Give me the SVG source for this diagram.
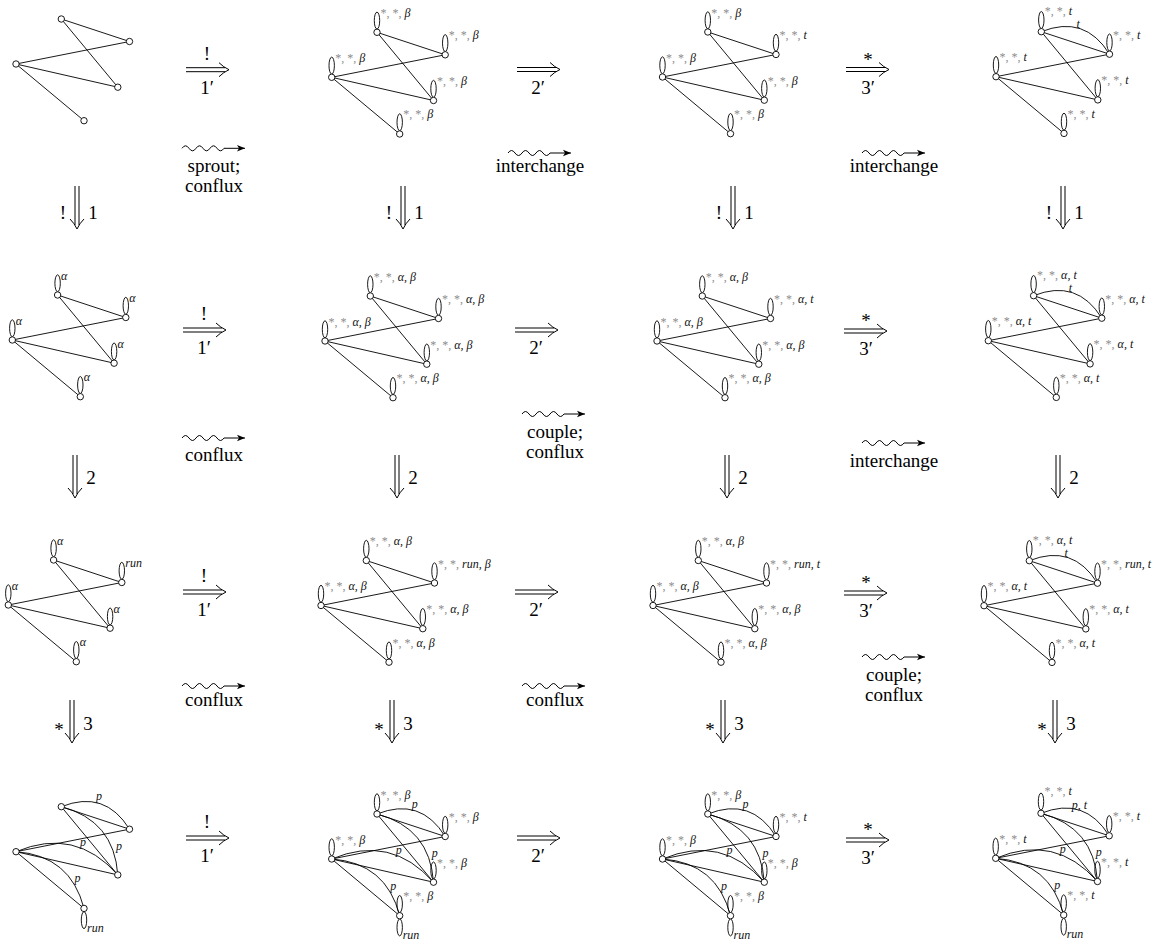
<svg xmlns="http://www.w3.org/2000/svg" width="1152" height="941" viewBox="0 0 1152 941">
<style>
.e{fill:none;stroke:#000;stroke-width:0.9}
.n{fill:#fff;stroke:#000;stroke-width:0.9}
.l{font-family:"Liberation Serif",serif;font-size:12px;font-style:italic;fill:#111}
.g{fill:#8c8c8c;font-style:normal}
.t{font-family:"Liberation Serif",serif;font-size:19px;fill:#000;text-anchor:middle}
.a{fill:none;stroke:#000;stroke-width:1}
</style>
<defs>
<marker id="ah" markerUnits="userSpaceOnUse" viewBox="-9 -4 10 8" refX="0" refY="0" markerWidth="10" markerHeight="8" orient="auto"><path d="M-8,-3.3L0,0L-8,3.3L-6,0z" fill="#000"/></marker>
<path id="ed" class="e" d="M45.3,-45L113.5,-22.5M45.3,-45L101.8,23.2M0,0L113.5,-22.5M0,0L101.8,23.2M0,0L68,56.7"/>
<g id="nd" class="n"><circle cx="0" cy="0" r="3.2"/><circle cx="45.3" cy="-45" r="3.2"/><circle cx="113.5" cy="-22.5" r="3.2"/><circle cx="101.8" cy="23.2" r="3.2"/><circle cx="68" cy="56.7" r="3.2"/></g>
<g id="lp" class="e"><ellipse cx="0" cy="-11.7" rx="2.7" ry="8.5"/><ellipse cx="45.3" cy="-56.7" rx="2.7" ry="8.5"/><ellipse cx="113.5" cy="-34.2" rx="2.7" ry="8.5"/><ellipse cx="101.8" cy="11.5" rx="2.7" ry="8.5"/><ellipse cx="68" cy="45" rx="2.7" ry="8.5"/></g>
<ellipse id="lb" class="e" cx="68" cy="68.4" rx="2.7" ry="8.5"/>
<path id="ab" class="e" d="M45.3,-45Q88.85,-62.39 113.5,-22.5"/>
<path id="pc" class="e" d="M45.3,-45Q98.1,-31.24 101.8,23.2M0,0Q59.25,-25.05 101.8,23.2M0,0Q54.41,3.87 68,56.7"/>
<g id="ha" class="a"><path d="M0,-2H39M0,2H39"/><path d="M33,-7Q37.5,-2.5 43,0Q37.5,2.5 33,7"/></g>
<g id="va"><use href="#ha" transform="rotate(90)"/></g>
<path id="sq" class="a" d="M0,0q3.5,-5 7,0t7,0t7,0t7,0t7,0t7,0h21" marker-end="url(#ah)"/>
</defs>
<rect width="1152" height="941" fill="#fff"/>

<!-- Row 1 -->
<g id="r1c1" transform="translate(16,64)">
<use href="#ed"/><use href="#nd"/>
</g>
<g id="r1c2" transform="translate(331.7,77.3)">
<use href="#ed"/><use href="#lp"/><use href="#nd"/>
<text class="l" x="3.5" y="-15.5"><tspan class="g">*, *, </tspan>β</text>
<text class="l" x="48.8" y="-60.5"><tspan class="g">*, *, </tspan>β</text>
<text class="l" x="117" y="-38"><tspan class="g">*, *, </tspan>β</text>
<text class="l" x="105.3" y="7.7"><tspan class="g">*, *, </tspan>β</text>
<text class="l" x="71.5" y="41.2"><tspan class="g">*, *, </tspan>β</text>
</g>
<g id="r1c3" transform="translate(662.5,77)">
<use href="#ed"/><use href="#lp"/><use href="#nd"/>
<text class="l" x="3.5" y="-15.5"><tspan class="g">*, *, </tspan>β</text>
<text class="l" x="48.8" y="-60.5"><tspan class="g">*, *, </tspan>β</text>
<text class="l" x="117" y="-38"><tspan class="g">*, *, </tspan>t</text>
<text class="l" x="105.3" y="7.7"><tspan class="g">*, *, </tspan>β</text>
<text class="l" x="71.5" y="41.2"><tspan class="g">*, *, </tspan>β</text>
</g>
<g id="r1c4" transform="translate(996,76.7)">
<use href="#ed"/><use href="#ab"/><use href="#lp"/><use href="#nd"/>
<text class="l" x="80.5" y="-48.6">t</text>
<text class="l" x="3.5" y="-15.5"><tspan class="g">*, *, </tspan>t</text>
<text class="l" x="48.8" y="-61.5"><tspan class="g">*, *, </tspan>t</text>
<text class="l" x="117" y="-38"><tspan class="g">*, *, </tspan>t</text>
<text class="l" x="105.3" y="7.7"><tspan class="g">*, *, </tspan>t</text>
<text class="l" x="71.5" y="41.2"><tspan class="g">*, *, </tspan>t</text>
</g>

<!-- Row 2 -->
<g id="r2c1" transform="translate(12.3,340)">
<use href="#ed"/><use href="#lp"/><use href="#nd"/>
<text class="l" x="3.5" y="-15.5">α</text>
<text class="l" x="48.8" y="-60.5">α</text>
<text class="l" x="117" y="-38">α</text>
<text class="l" x="105.3" y="7.7">α</text>
<text class="l" x="71.5" y="41.2">α</text>
</g>
<g id="r2c2" transform="translate(325,341)">
<use href="#ed"/><use href="#lp"/><use href="#nd"/>
<text class="l" x="3.5" y="-15.5"><tspan class="g">*, *, </tspan>α, β</text>
<text class="l" x="48.8" y="-60.5"><tspan class="g">*, *, </tspan>α, β</text>
<text class="l" x="117" y="-38"><tspan class="g">*, *, </tspan>α, β</text>
<text class="l" x="105.3" y="7.7"><tspan class="g">*, *, </tspan>α, β</text>
<text class="l" x="71.5" y="41.2"><tspan class="g">*, *, </tspan>α, β</text>
</g>
<g id="r2c3" transform="translate(657,341)">
<use href="#ed"/><use href="#lp"/><use href="#nd"/>
<text class="l" x="3.5" y="-15.5"><tspan class="g">*, *, </tspan>α, β</text>
<text class="l" x="48.8" y="-60.5"><tspan class="g">*, *, </tspan>α, β</text>
<text class="l" x="117" y="-38"><tspan class="g">*, *, </tspan>α, t</text>
<text class="l" x="105.3" y="7.7"><tspan class="g">*, *, </tspan>α, β</text>
<text class="l" x="71.5" y="41.2"><tspan class="g">*, *, </tspan>α, β</text>
</g>
<g id="r2c4" transform="translate(988.3,340.7)">
<use href="#ed"/><use href="#ab"/><use href="#lp"/><use href="#nd"/>
<text class="l" x="80.5" y="-48.6">t</text>
<text class="l" x="3.5" y="-15.5"><tspan class="g">*, *, </tspan>α, t</text>
<text class="l" x="48.8" y="-61.5"><tspan class="g">*, *, </tspan>α, t</text>
<text class="l" x="117" y="-38"><tspan class="g">*, *, </tspan>α, t</text>
<text class="l" x="105.3" y="7.7"><tspan class="g">*, *, </tspan>α, t</text>
<text class="l" x="71.5" y="41.2"><tspan class="g">*, *, </tspan>α, t</text>
</g>

<!-- Row 3 -->
<g id="r3c1" transform="translate(8.3,605)">
<use href="#ed"/><use href="#lp"/><use href="#nd"/>
<text class="l" x="3.5" y="-15.5">α</text>
<text class="l" x="48.8" y="-60.5">α</text>
<text class="l" x="117" y="-38">run</text>
<text class="l" x="105.3" y="7.7">α</text>
<text class="l" x="71.5" y="41.2">α</text>
</g>
<g id="r3c2" transform="translate(321,605.5)">
<use href="#ed"/><use href="#lp"/><use href="#nd"/>
<text class="l" x="3.5" y="-15.5"><tspan class="g">*, *, </tspan>α, β</text>
<text class="l" x="48.8" y="-60.5"><tspan class="g">*, *, </tspan>α, β</text>
<text class="l" x="117" y="-38"><tspan class="g">*, *, </tspan>run, β</text>
<text class="l" x="105.3" y="7.7"><tspan class="g">*, *, </tspan>α, β</text>
<text class="l" x="71.5" y="41.2"><tspan class="g">*, *, </tspan>α, β</text>
</g>
<g id="r3c3" transform="translate(653,605.5)">
<use href="#ed"/><use href="#lp"/><use href="#nd"/>
<text class="l" x="3.5" y="-15.5"><tspan class="g">*, *, </tspan>α, β</text>
<text class="l" x="48.8" y="-60.5"><tspan class="g">*, *, </tspan>α, β</text>
<text class="l" x="117" y="-38"><tspan class="g">*, *, </tspan>run, t</text>
<text class="l" x="105.3" y="7.7"><tspan class="g">*, *, </tspan>α, β</text>
<text class="l" x="71.5" y="41.2"><tspan class="g">*, *, </tspan>α, β</text>
</g>
<g id="r3c4" transform="translate(984,605.7)">
<use href="#ed"/><use href="#ab"/><use href="#lp"/><use href="#nd"/>
<text class="l" x="80.5" y="-48.6">t</text>
<text class="l" x="3.5" y="-15.5"><tspan class="g">*, *, </tspan>α, t</text>
<text class="l" x="48.8" y="-61.5"><tspan class="g">*, *, </tspan>α, t</text>
<text class="l" x="117" y="-38"><tspan class="g">*, *, </tspan>run, t</text>
<text class="l" x="105.3" y="7.7"><tspan class="g">*, *, </tspan>α, t</text>
<text class="l" x="71.5" y="41.2"><tspan class="g">*, *, </tspan>α, t</text>
</g>

<!-- Row 4 -->
<g id="r4c1" transform="translate(16,851.7)">
<use href="#ed"/><use href="#ab"/><use href="#pc"/><use href="#lb"/><use href="#nd"/>
<text class="l" x="80" y="-51.5">p</text>
<text class="l" x="100" y="-2">p</text>
<text class="l" x="64" y="-5.5">p</text>
<text class="l" x="58.5" y="30.5">p</text>
<text class="l" x="71" y="80.2">run</text>
</g>
<g id="r4c2" transform="translate(331.7,859)">
<use href="#ed"/><use href="#ab"/><use href="#pc"/><use href="#lp"/><use href="#lb"/><use href="#nd"/>
<text class="l" x="80" y="-51.5">p</text>
<text class="l" x="100" y="-2">p</text>
<text class="l" x="64" y="-5.5">p</text>
<text class="l" x="58.5" y="30.5">p</text>
<text class="l" x="71" y="80.2">run</text>
<text class="l" x="3.5" y="-15.5"><tspan class="g">*, *, </tspan>β</text>
<text class="l" x="48.8" y="-60.5"><tspan class="g">*, *, </tspan>β</text>
<text class="l" x="117" y="-38"><tspan class="g">*, *, </tspan>β</text>
<text class="l" x="105.3" y="7.7"><tspan class="g">*, *, </tspan>β</text>
<text class="l" x="71.5" y="41.2"><tspan class="g">*, *, </tspan>β</text>
</g>
<g id="r4c3" transform="translate(662.5,859)">
<use href="#ed"/><use href="#ab"/><use href="#pc"/><use href="#lp"/><use href="#lb"/><use href="#nd"/>
<text class="l" x="80" y="-51.5">p</text>
<text class="l" x="100" y="-2">p</text>
<text class="l" x="64" y="-5.5">p</text>
<text class="l" x="58.5" y="30.5">p</text>
<text class="l" x="71" y="80.2">run</text>
<text class="l" x="3.5" y="-15.5"><tspan class="g">*, *, </tspan>β</text>
<text class="l" x="48.8" y="-60.5"><tspan class="g">*, *, </tspan>β</text>
<text class="l" x="117" y="-38"><tspan class="g">*, *, </tspan>t</text>
<text class="l" x="105.3" y="7.7"><tspan class="g">*, *, </tspan>β</text>
<text class="l" x="71.5" y="41.2"><tspan class="g">*, *, </tspan>β</text>
</g>
<g id="r4c4" transform="translate(995.7,858.3)">
<use href="#ed"/><use href="#ab"/><use href="#pc"/><use href="#lp"/><use href="#lb"/><use href="#nd"/>
<text class="l" x="76" y="-49.5">p, t</text>
<text class="l" x="100" y="-2">p</text>
<text class="l" x="64" y="-5.5">p</text>
<text class="l" x="58.5" y="30.5">p</text>
<text class="l" x="71" y="80.2">run</text>
<text class="l" x="3.5" y="-15.5"><tspan class="g">*, *, </tspan>t</text>
<text class="l" x="48.8" y="-63"><tspan class="g">*, *, </tspan>t</text>
<text class="l" x="117" y="-38"><tspan class="g">*, *, </tspan>t</text>
<text class="l" x="105.3" y="7.7"><tspan class="g">*, *, </tspan>t</text>
<text class="l" x="71.5" y="41.2"><tspan class="g">*, *, </tspan>t</text>
</g>

<g id="connectors">
<use href="#ha" x="186" y="69.7"/><text class="t" x="207" y="59.5">!</text><text class="t" x="207" y="93.5">1′</text>
<use href="#ha" x="517" y="69.5"/><text class="t" x="538" y="93.5">2′</text>
<use href="#ha" x="846" y="69.5"/><text class="t" x="868" y="66">*</text><text class="t" x="868" y="93.5">3′</text>

<use href="#ha" x="183" y="330"/><text class="t" x="204" y="320">!</text><text class="t" x="204" y="354">1′</text>
<use href="#ha" x="515" y="330"/><text class="t" x="536" y="354">2′</text>
<use href="#ha" x="844" y="331"/><text class="t" x="866" y="327">*</text><text class="t" x="866" y="355">3′</text>

<use href="#ha" x="183" y="592"/><text class="t" x="204" y="582">!</text><text class="t" x="204" y="616">1′</text>
<use href="#ha" x="515" y="592"/><text class="t" x="536" y="616">2′</text>
<use href="#ha" x="844" y="593"/><text class="t" x="866" y="589">*</text><text class="t" x="866" y="617">3′</text>

<use href="#ha" x="186" y="838"/><text class="t" x="207" y="828">!</text><text class="t" x="207" y="862">1′</text>
<use href="#ha" x="517" y="838"/><text class="t" x="538" y="862">2′</text>
<use href="#ha" x="846" y="840"/><text class="t" x="868" y="836">*</text><text class="t" x="868" y="864">3′</text>

<use href="#va" x="77" y="186"/><text class="t" x="63" y="219">!</text><text class="t" x="93" y="219">1</text>
<use href="#va" x="403" y="186"/><text class="t" x="389" y="219">!</text><text class="t" x="419" y="219">1</text>
<use href="#va" x="733" y="186"/><text class="t" x="719" y="219">!</text><text class="t" x="749" y="219">1</text>
<use href="#va" x="1063" y="186"/><text class="t" x="1049" y="219">!</text><text class="t" x="1079" y="219">1</text>

<use href="#va" x="75" y="455"/><text class="t" x="91" y="484">2</text>
<use href="#va" x="397" y="455"/><text class="t" x="413" y="484">2</text>
<use href="#va" x="727" y="455"/><text class="t" x="743" y="484">2</text>
<use href="#va" x="1058" y="455"/><text class="t" x="1074" y="484">2</text>

<use href="#va" x="72" y="700"/><text class="t" x="59" y="736">*</text><text class="t" x="88" y="730">3</text>
<use href="#va" x="392" y="700"/><text class="t" x="379" y="736">*</text><text class="t" x="408" y="730">3</text>
<use href="#va" x="723" y="700"/><text class="t" x="710" y="736">*</text><text class="t" x="739" y="730">3</text>
<use href="#va" x="1055" y="700"/><text class="t" x="1042" y="736">*</text><text class="t" x="1071" y="730">3</text>

<use href="#sq" x="182" y="148.3"/><text class="t" x="214" y="171.5">sprout;</text><text class="t" x="214" y="191.5">conflux</text>
<use href="#sq" x="508" y="153"/><text class="t" x="540" y="172">interchange</text>
<use href="#sq" x="862" y="153"/><text class="t" x="894" y="172">interchange</text>

<use href="#sq" x="182" y="438"/><text class="t" x="214" y="461">conflux</text>
<use href="#sq" x="522" y="414"/><text class="t" x="555" y="438">couple;</text><text class="t" x="555" y="458">conflux</text>
<use href="#sq" x="862" y="443"/><text class="t" x="894" y="467">interchange</text>

<use href="#sq" x="182" y="686"/><text class="t" x="214" y="706">conflux</text>
<use href="#sq" x="522" y="686"/><text class="t" x="555" y="706">conflux</text>
<use href="#sq" x="862" y="657"/><text class="t" x="894" y="681">couple;</text><text class="t" x="894" y="701">conflux</text>
</g>
</svg>
